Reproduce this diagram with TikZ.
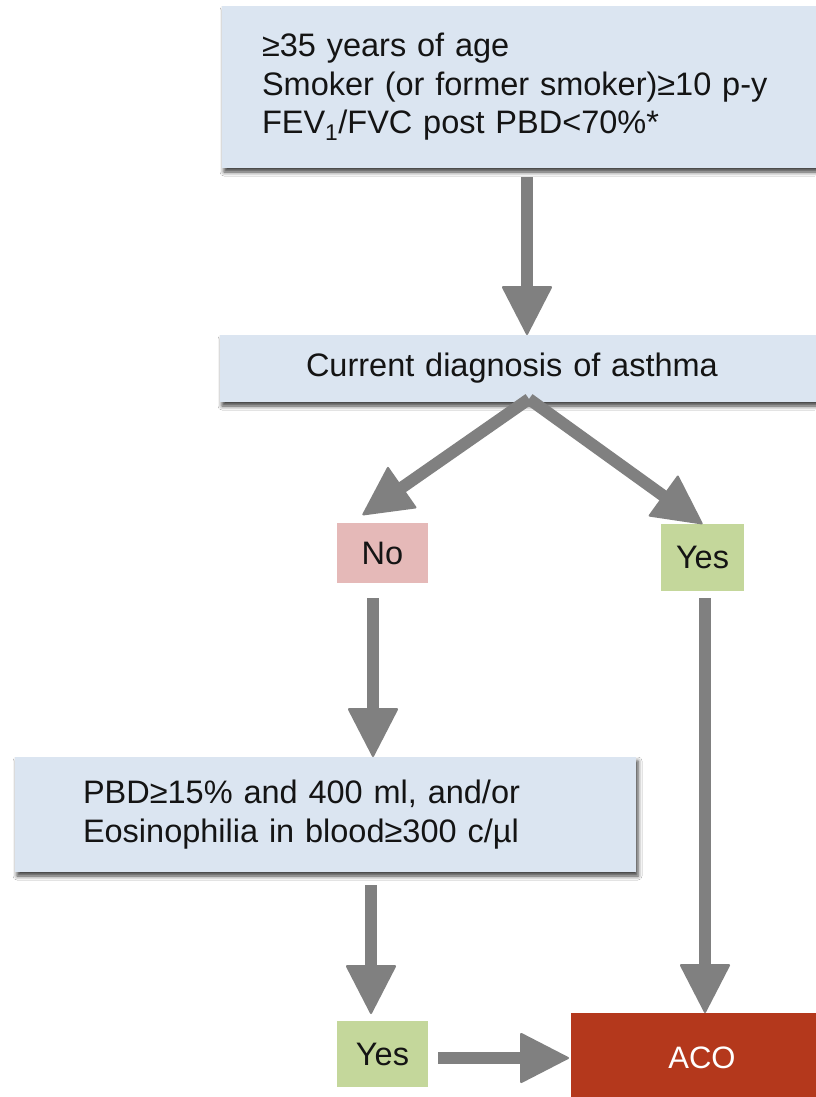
\documentclass[tikz,border=0pt]{standalone}
\usepackage{fontspec}
\setmainfont{Liberation Sans}
\usetikzlibrary{arrows.meta,shadows.blur,calc}
\definecolor{boxblue}{RGB}{219,229,241}
\definecolor{nopink}{RGB}{229,185,184}
\definecolor{yesgreen}{RGB}{196,215,155}
\definecolor{acored}{RGB}{180,56,28}
\definecolor{arrowgrey}{RGB}{128,128,128}
\definecolor{txt}{RGB}{20,20,20}
\begin{document}
\begin{tikzpicture}[x=1pt,y=-1pt,
  every node/.style={font=\fontsize{32.5}{38.5}\selectfont, text=txt, inner sep=0pt, outer sep=0pt},
  bluebox/.style={fill=boxblue, anchor=north west, align=left,
    blur shadow={shadow xshift=2pt, shadow yshift=-4pt, shadow blur radius=4pt, shadow opacity=75}},
  fat/.style={draw=arrowgrey, line width=12pt,
    -{Triangle[width=51pt,length=50pt,round,line width=2pt]}}
]
\useasboundingbox[fill=white] (0,0) rectangle (815,1097);

\node[bluebox, minimum height=162pt, text width=560pt, inner xsep=40pt] (crit) at (222,6)
  {≥35 years of age\\Smoker (or former smoker)≥10 p-y\\FEV\textsubscript{1}/FVC post PBD<70\%*};
\node[bluebox, minimum height=67pt, text width=520pt, inner xsep=86pt] (diag) at (220,335)
  {Current diagnosis of asthma};
\node[fill=nopink, minimum width=91pt, minimum height=60pt] (no) at (382.5,553) {No};
\node[fill=yesgreen, minimum width=83pt, minimum height=67pt] (yes1) at (702.5,557.5) {Yes};
\node[bluebox, minimum height=115pt, text width=485pt, inner xsep=68pt] (pbd) at (15,757)
  {PBD≥15\% and 400 ml, and/or\\Eosinophilia in blood≥300 c/µl};
\node[fill=yesgreen, minimum width=91pt, minimum height=66pt] (yes2) at (382.5,1054) {Yes};
\node[fill=acored, text=white, anchor=north west, minimum width=262pt, minimum height=90pt,
  font=\fontsize{31}{36}\selectfont] (aco) at (571,1013) {ACO};

\coordinate (x1) at (527,0);
\coordinate (x2) at (373,0);
\coordinate (x3) at (371,0);
\coordinate (x5) at (705,0);
\coordinate (y4) at (0,1058);
\coordinate (apex) at (529,399);

\draw[fat] ($(crit.south -| x1)+(0,9)$) -- (diag.north -| x1);
\draw[fat] (apex) -- ($(no.north)+(-20,-8)$);
\draw[fat] (apex) -- (yes1.north);
\draw[fat] ($(no.south -| x2)+(0,15)$) -- (pbd.north -| x2);
\draw[fat] ($(pbd.south -| x3)+(0,13)$) -- ($(yes2.north -| x3)+(0,-7)$);
\draw[fat] ($(yes2.east |- y4)+(10,0)$) -- ($(aco.west)+(-2,0)$);
\draw[fat] ($(yes1.south -| x5)+(0,7)$) -- (aco.north west -| x5);
\end{tikzpicture}
\end{document}
